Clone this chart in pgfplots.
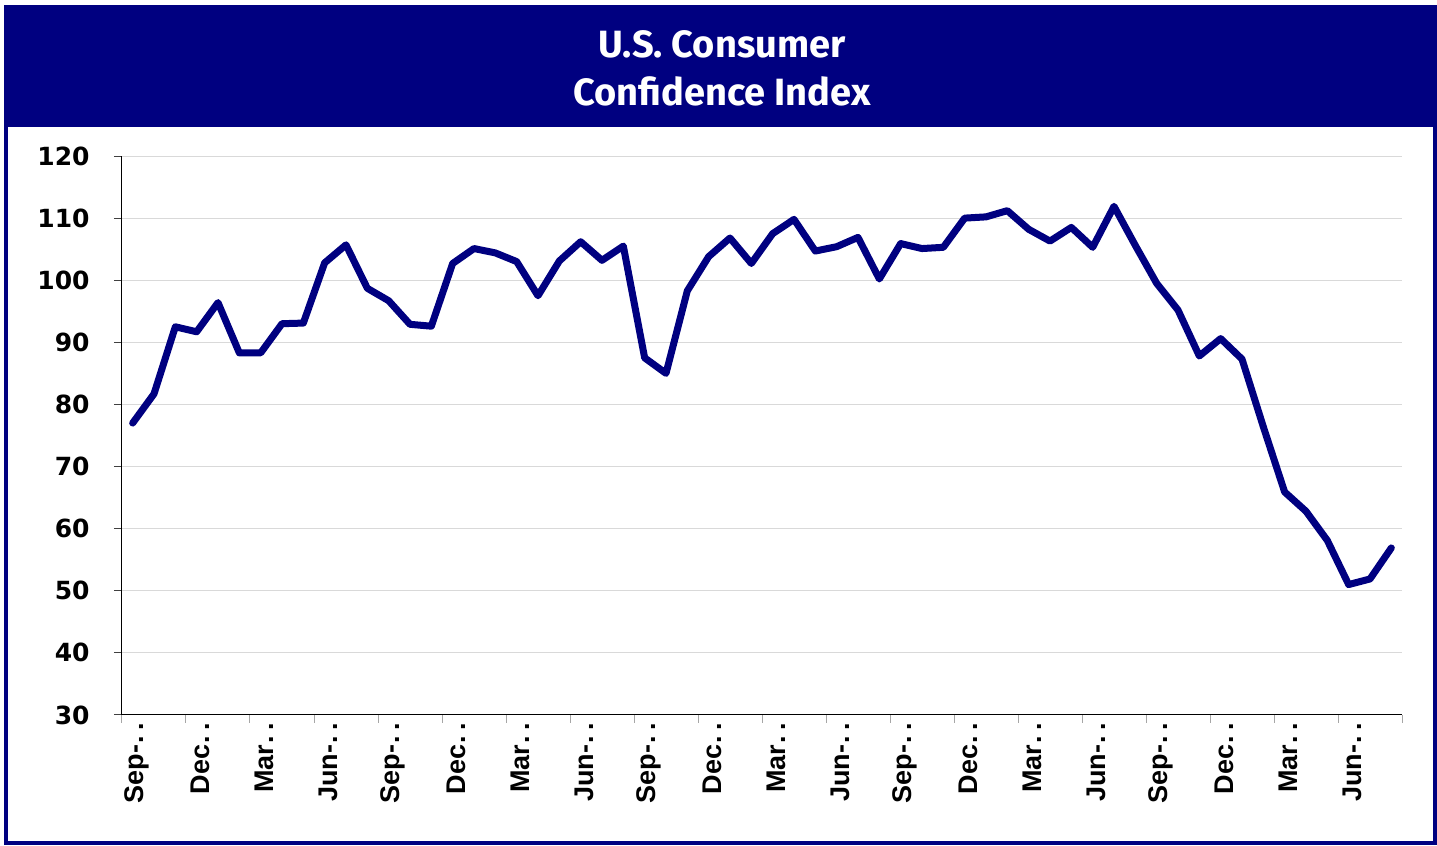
\documentclass[border=0pt]{standalone}
\usepackage{fontspec}
\usepackage{pgfplots}
\usepackage{pgfplotstable}
\pgfplotsset{compat=1.18}
\setmainfont{Liberation Sans}
\newfontfamily\titlefont{Fira Sans}
\newfontfamily\ytickfont{DejaVu Sans}
\definecolor{navy}{RGB}{0,0,128}
\definecolor{gridgray}{RGB}{217,217,217}
\newcommand{\dd}{\kern0.6pt.\kern2.6pt.}
\pgfplotstableread{
idx val
0 77.0
1 81.7
2 92.5
3 91.7
4 96.4
5 88.3
6 88.3
7 93.0
8 93.1
9 102.8
10 105.7
11 98.7
12 96.7
13 92.9
14 92.6
15 102.7
16 105.1
17 104.4
18 103.0
19 97.5
20 103.1
21 106.2
22 103.2
23 105.5
24 87.5
25 85.0
26 98.3
27 103.8
28 106.8
29 102.7
30 107.5
31 109.8
32 104.7
33 105.4
34 106.9
35 100.2
36 105.9
37 105.1
38 105.3
39 110.0
40 110.2
41 111.2
42 108.2
43 106.3
44 108.5
45 105.3
46 111.9
47 105.6
48 99.5
49 95.2
50 87.8
51 90.6
52 87.3
53 76.4
54 65.9
55 62.8
56 58.1
57 51.0
58 51.9
59 56.9
}\cci
\begin{document}
\begin{tikzpicture}[x=1pt,y=1pt]
\fill[white] (0,0) rectangle (718.5,423);
\fill[navy] (2.75,359.5) rectangle (717.5,419.5);
\draw[navy, line width=2pt] (2.75,1.5) rectangle (717.5,419.5);
\node[anchor=base, text=white, inner sep=0pt, font=\titlefont\bfseries\fontsize{19}{22}\selectfont] at (361,394) {U.S. Consumer};
\node[anchor=base, text=white, inner sep=0pt, font=\titlefont\bfseries\fontsize{19}{22}\selectfont] at (361,370) {Confidence Index};
\begin{axis}[
  at={(61pt,65.5pt)}, anchor=south west,
  scale only axis, width=640pt, height=279.5pt,
  xmin=-0.5, xmax=59.5, ymin=30, ymax=120,
  axis x line*=bottom, axis y line*=left,
  axis line style={black, line width=0.5pt, -},
  ytick={30,40,...,120},
  ymajorgrids=true, xmajorgrids=false,
  grid style={gridgray, line width=0.5pt},
  tick align=outside,
  major tick length=4pt,
  ytick style={black!75, line width=0.5pt},
  /pgf/number format/assume math mode=true,
  yticklabel style={inner sep=0pt, font=\ytickfont\bfseries\fontsize{12.5}{14}\selectfont},
  yticklabel shift=12pt,
  xtick={-0.5,2.5,...,59.5},
  xticklabels={},
  xtick style={gray!70, line width=0.5pt},
  extra x ticks={0,3,...,57},
  extra x tick labels={Sep-\dd,Dec\dd,Mar\dd,Jun-\dd,Sep-\dd,Dec\dd,Mar\dd,Jun-\dd,Sep-\dd,Dec\dd,Mar\dd,Jun-\dd,Sep-\dd,Dec\dd,Mar\dd,Jun-\dd,Sep-\dd,Dec\dd,Mar\dd,Jun-\dd},
  extra x tick style={major tick length=0pt, grid=none},
  xticklabel style={rotate=90, anchor=east, inner sep=0pt, yshift=-2pt, font=\bfseries\fontsize{13.5}{15}\selectfont},
  xticklabel shift=4pt,
]
\addplot[navy, line width=3.5pt, line join=round, line cap=round, mark=none] table[x=idx, y=val] {\cci};
\end{axis}
\end{tikzpicture}
\end{document}
